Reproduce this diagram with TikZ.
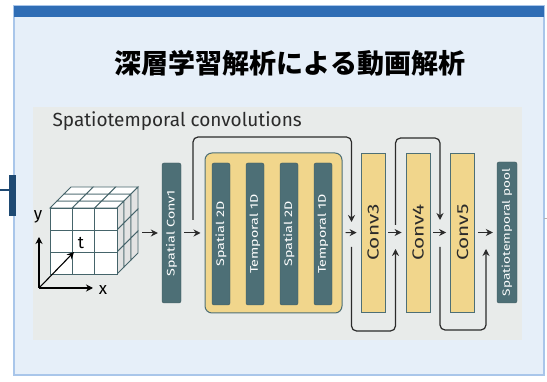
\documentclass[tikz,border=0pt]{standalone}
\usepackage{fontspec}
\setmainfont{Fira Sans}
\newfontfamily\cjk{Noto Sans CJK JP}
\usepackage{graphicx}
\usetikzlibrary{arrows.meta}

\definecolor{framefill}{HTML}{E6EFF9}
\definecolor{frameline}{HTML}{A9C6EA}
\definecolor{barblue}{HTML}{2F6DB5}
\definecolor{tabblue}{HTML}{1F4A73}
\definecolor{panelgray}{HTML}{E8EBEA}
\definecolor{slate}{HTML}{4D6F76}
\definecolor{sand}{HTML}{F1D68C}
\definecolor{ink}{HTML}{2B2B2B}

\newcommand{\vtext}[1]{\rotatebox{90}{\scalebox{1.3}[1]{#1}}}

\tikzset{
  tealbar/.style={draw=slate!80!black, fill=slate, rounded corners=2pt, inner sep=0pt,
    minimum width=18pt, text=white, font=\fontsize{11}{11}\selectfont},
  convbar/.style={draw=slate, fill=sand, line width=0.8pt, inner sep=0pt,
    minimum width=24pt, minimum height=159pt, text=ink, font=\fontsize{16}{16}\selectfont},
  flow/.style={-{Stealth[length=7pt,width=7pt]}, ink, line width=1pt, shorten <=3pt, shorten >=4pt},
  skip/.style={-{Stealth[length=7pt,width=7pt]}, ink, line width=1.2pt, rounded corners=5pt},
  axis/.style={-{Stealth[length=7pt,width=7pt]}, black, line width=1.1pt},
  cell/.style={draw=slate!90!black, line width=0.9pt},
}

\begin{document}
\begin{tikzpicture}[x=1pt, y=-1pt]
\useasboundingbox (0,0) rectangle (547,382);

% Frame
\draw[frameline, fill=framefill, line width=1.2pt] (14,6) rectangle (544,375);
\fill[barblue] (14,6) rectangle (544,17);
\draw[tabblue, line width=1.2pt] (0,190) -- (9,190);
\fill[tabblue] (9,175) rectangle (16,216);
\draw[gray!60, line width=0.8pt] (544,218) -- (547,218);

\node[font=\cjk\bfseries\fontsize{27}{27}\selectfont] (title) at (290,63) {深層学習解析による動画解析};

% Panel
\fill[panelgray] (33,107) rectangle (522,340);
\node[anchor=west, font=\fontsize{19}{19}\selectfont, text=ink] (head) at (49,121) {Spatiotemporal convolutions};

% Cube
\foreach \i in {0,1,2}
  \foreach \k in {0,1,2}
    \draw[cell, fill=white] (50+22.33*\i+7*\k, 208-7*\k) -- ++(22.33,0) -- ++(7,-7) -- ++(-22.33,0) -- cycle;
\foreach \j in {0,1,2}
  \foreach \k in {0,1,2}
    \draw[cell, fill=gray!22] (117+7*\k, 208+22*\j-7*\k) -- ++(7,-7) -- ++(0,22) -- ++(-7,7) -- cycle;
\foreach \i in {0,1,2}
  \foreach \j in {0,1,2}
    \draw[cell, fill=white] (50+22.33*\i, 208+22*\j) rectangle ++(22.33,22);
\coordinate (cube) at (142,233);

% Axes
\coordinate (o) at (39,288);
\coordinate (ytip) at (39,237);
\coordinate (xtip) at (93,288);
\coordinate (ttip) at (74,252);
\draw[axis] (o) -- (ytip);
\draw[axis] (o) -- (xtip);
\draw[axis] (o) -- (ttip);
\node[font=\fontsize{17}{17}\selectfont] at (38,217) {y};
\node[font=\fontsize{17}{17}\selectfont] at (81,243) {t};
\node[font=\fontsize{17}{17}\selectfont] at (103,290) {x};

% Blocks
\node[tealbar, minimum width=19pt, minimum height=140pt] (sc1) at (171.5,233) {\vtext{Spatial Conv1}};

\node[draw=slate, fill=sand, line width=1pt, rounded corners=7pt, minimum width=137pt, minimum height=160pt] (grp) at (273.5,233) {};
\node[tealbar, minimum height=142pt] (sa) at (221,234) {\vtext{Spatial 2D}};
\node[tealbar, minimum height=142pt] (ta) at (255,234) {\vtext{Temporal 1D}};
\node[tealbar, minimum height=142pt] (sb) at (289,234) {\vtext{Spatial 2D}};
\node[tealbar, minimum height=142pt] (tb) at (323,234) {\vtext{Temporal 1D}};

\node[convbar] (c3) at (373,232.5) {\vtext{Conv3}};
\node[convbar] (c4) at (418,232.5) {\vtext{Conv4}};
\node[convbar] (c5) at (462.5,232.5) {\vtext{Conv5}};

\node[tealbar, minimum width=20pt, minimum height=141pt, font=\fontsize{10.5}{10.5}\selectfont] (pool) at (507,232.5) {\vtext{Spatiotemporal pool}};

% Flow
\draw[flow, shorten <=0pt] (cube) -- (sc1);
\draw[flow] (sc1) -- (grp);
\draw[flow] (grp) -- (c3);
\draw[flow] (c3) -- (c4);
\draw[flow] (c4) -- (c5);
\draw[flow] (c5) -- (pool);

% Skips
\coordinate (j1) at (193,233);
\coordinate (j2) at (351.5,233);
\coordinate (j3) at (395.5,233);
\coordinate (j4) at (440,233);
\coordinate (j5) at (486,233);
\draw[skip] ([yshift=13pt]j1) |- ([yshift=96pt]j2) -- ([yshift=11pt]j2);
\draw[skip] ([yshift=-14pt]j2) |- ([yshift=-98pt]j3) -- ([yshift=-16pt]j3);
\draw[skip] ([yshift=8pt]j3) |- ([yshift=95pt]j4) -- ([yshift=13pt]j4);
\draw[skip] ([yshift=-14pt]j4) |- ([yshift=-97pt]j5) -- ([yshift=-16pt]j5);

\end{tikzpicture}
\end{document}
